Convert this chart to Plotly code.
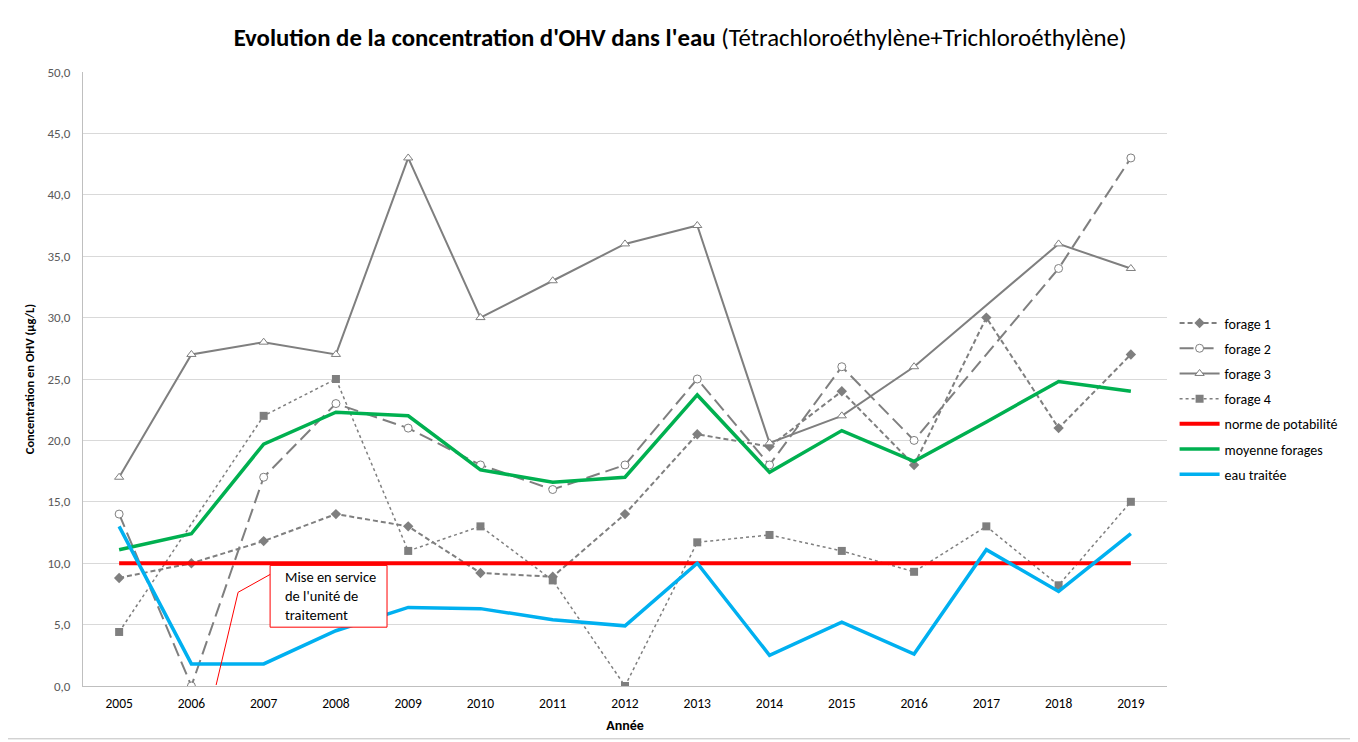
import plotly.graph_objects as go

years = [2005, 2006, 2007, 2008, 2009, 2010, 2011, 2012, 2013, 2014, 2015, 2016, 2017, 2018, 2019]
forage1 = [8.8, 10.0, 11.8, 14.0, 13.0, 9.2, 8.9, 14.0, 20.5, 19.5, 24.0, 18.0, 30.0, 21.0, 27.0]
forage2 = [14.0, 0.0, 17.0, 23.0, 21.0, 18.0, 16.0, 18.0, 25.0, 18.0, 26.0, 20.0, None, 34.0, 43.0]
forage3 = [17.0, 27.0, 28.0, 27.0, 43.0, 30.0, 33.0, 36.0, 37.5, 19.8, 22.0, 26.0, None, 36.0, 34.0]
forage4 = [4.4, None, 22.0, 25.0, 11.0, 13.0, 8.6, 0.0, 11.7, 12.3, 11.0, 9.3, 13.0, 8.2, 15.0]
norme = [10.0] * 15
moyenne = [11.1, 12.4, 19.7, 22.3, 22.0, 17.6, 16.6, 17.0, 23.7, 17.4, 20.8, 18.3, 21.5, 24.8, 24.0]
eau_traitee = [13.0, 1.8, 1.8, 4.5, 6.4, 6.3, 5.4, 4.9, 10.0, 2.5, 5.2, 2.6, 11.1, 7.7, 12.4]
y_ticks = [0, 5, 10, 15, 20, 25, 30, 35, 40, 45, 50]

FONT = "Carlito, 'Liberation Sans Narrow', 'Open Sans', sans-serif"
GREY = "#7f7f7f"

fig = go.Figure()

fig.add_trace(go.Scatter(x=years, y=forage1, name="forage 1", mode="lines+markers", connectgaps=True,
                         line=dict(color=GREY, width=2, dash="5px,3px"),
                         marker=dict(symbol="diamond", size=8, color=GREY), legendgroup="1"))
fig.add_trace(go.Scatter(x=years, y=forage2, name="forage 2", mode="lines+markers", connectgaps=True,
                         line=dict(color=GREY, width=2, dash="14px,6px"),
                         marker=dict(symbol="circle", size=8, color="white", line=dict(color=GREY, width=1)),
                         legendgroup="2"))
fig.add_trace(go.Scatter(x=years, y=forage3, name="forage 3", mode="lines+markers", connectgaps=True,
                         line=dict(color=GREY, width=2),
                         marker=dict(symbol="triangle-up", size=8, color="white", line=dict(color=GREY, width=1)),
                         legendgroup="3"))
fig.add_trace(go.Scatter(x=years, y=forage4, name="forage 4", mode="lines+markers", connectgaps=True,
                         line=dict(color=GREY, width=1.5, dash="dot"),
                         marker=dict(symbol="square", size=8, color=GREY), legendgroup="4"))
fig.add_trace(go.Scatter(x=years, y=norme, name="norme de potabilité", mode="lines",
                         line=dict(color="#ff0000", width=4), legendgroup="5"))
fig.add_trace(go.Scatter(x=years, y=moyenne, name="moyenne forages", mode="lines",
                         line=dict(color="#00b050", width=3.5), legendgroup="6"))
fig.add_trace(go.Scatter(x=years, y=eau_traitee, name="eau traitée", mode="lines",
                         line=dict(color="#00b0f0", width=3.5), legendgroup="7"))

# callout line and box
fig.add_shape(type="path", xref="x", yref="y", path="M 2006.342,0.08 L 2006.646,7.63 L 2007.116,9.17",
              line=dict(color="#ff0000", width=1))
fig.add_shape(type="rect", xref="x", yref="y", x0=2007.089, x1=2008.707, y0=4.79, y1=9.82,
              fillcolor="white", line=dict(color="#ff0000", width=1))
fig.add_annotation(x=2007.269, y=7.3, xref="x", yref="y", showarrow=False, xanchor="left", yanchor="middle",
                   text="Mise en service<br>de l'unité de<br>traitement", align="left",
                   font=dict(family=FONT, size=14.5, color="#000000"))

# outer chart border
fig.add_shape(type="rect", xref="paper", yref="paper", x0=-0.0701, x1=1.1725, y0=-0.086, y1=1.1136,
              line=dict(color="#bfbfbf", width=1), layer="below")

fig.update_layout(
    width=1350, height=734,
    margin=dict(l=75, r=191, t=64, b=54),
    paper_bgcolor="white", plot_bgcolor="white",
    separators=", ",
    font=dict(family=FONT, size=13, color="#595959"),
    title=dict(text="<b>Evolution de la concentration d'OHV dans l'eau</b> (Tétrachloroéthylène+Trichloroéthylène)",
               x=0.4978, xref="container", xanchor="center", y=0.9605, yref="container", yanchor="middle",
               font=dict(family=FONT, size=24.8, color="#000000")),
    legend=dict(x=1.007, y=0.4675, xanchor="left", yanchor="middle", tracegroupgap=4,
                traceorder="grouped", font=dict(family=FONT, size=14, color="#000000"),
                bgcolor="rgba(0,0,0,0)", itemwidth=40),
    xaxis=dict(range=[2004.5, 2019.5], tickmode="array", tickvals=years, ticktext=[str(y) for y in years],
               showgrid=False, zeroline=False, showline=True, linecolor="#bfbfbf", linewidth=1,
               ticks="", ticklabelstandoff=5,
               title=dict(text="<b>Année</b>", font=dict(family=FONT, size=14, color="#000000"), standoff=8),
               tickfont=dict(family=FONT, size=13.5, color="#000000")),
    yaxis=dict(range=[0, 50], tickmode="array", tickvals=y_ticks, tickformat=".1f",
               showgrid=True, gridcolor="#d9d9d9", gridwidth=1, zeroline=False,
               showline=True, linecolor="#bfbfbf", linewidth=1, ticks="", ticklabelstandoff=9,
               title=dict(text="<b>Concentration en OHV (µg/L)</b>", font=dict(family=FONT, size=12.5, color="#000000"),
                          standoff=10),
               tickfont=dict(family=FONT, size=13, color="#595959")),
)

fig.write_html("out.html")
